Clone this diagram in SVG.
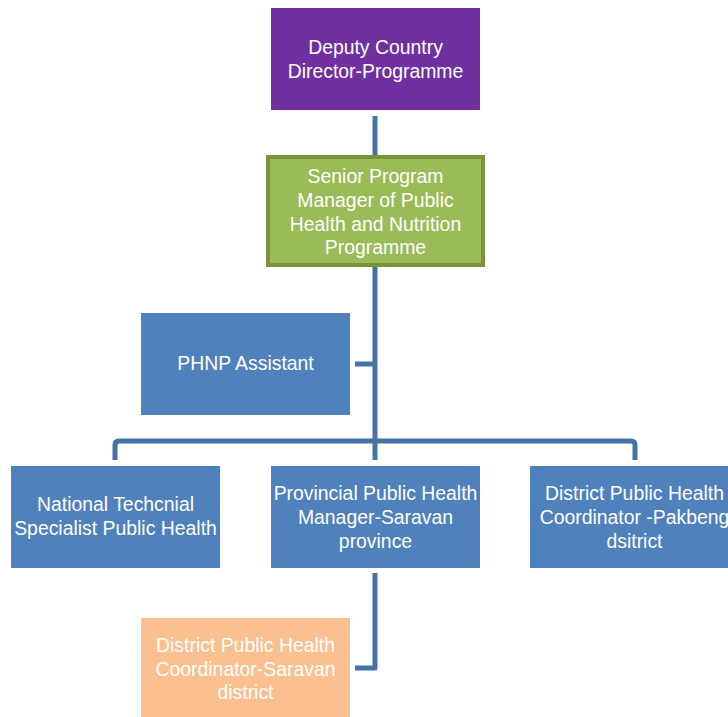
<svg xmlns="http://www.w3.org/2000/svg" width="728" height="717" viewBox="0 0 728 717">
<style>
.t{font-family:"Liberation Sans",Arial,sans-serif;font-size:19.4px;fill:#fff;text-anchor:middle}
.blue{fill:#4F81BD}
.c{fill:none;stroke:#4572A7;stroke-width:5;stroke-linejoin:round}
</style>
<rect width="728" height="717" fill="#fff"/>
<g id="connectors">
<path class="c" d="M375 116 V460"/>
<path class="c" d="M355 364 H375"/>
<path class="c" d="M115 460 V445 Q115 441 119 441 H631 Q635 441 635 445 V460"/>
<path class="c" d="M375 573 V668 H355"/>
</g>
<g id="deputy">
<rect x="271" y="8" width="209" height="102" fill="#7030A0"/>
<text class="t" x="375.5" y="54">Deputy Country</text>
<text class="t" x="375.5" y="78">Director-Programme</text>
</g>
<g id="senior">
<rect x="268" y="157" width="215" height="108" fill="#9BBB59" stroke="#77933C" stroke-width="4"/>
<text class="t" x="375.5" y="183">Senior Program</text>
<text class="t" x="375.5" y="207">Manager of Public</text>
<text class="t" x="375.5" y="231">Health and Nutrition</text>
<text class="t" x="375.5" y="254">Programme</text>
</g>
<g id="phnp">
<rect class="blue" x="141" y="313" width="209" height="102"/>
<text class="t" x="245.5" y="370">PHNP Assistant</text>
</g>
<g id="national">
<rect class="blue" x="11" y="466" width="209" height="102"/>
<text class="t" x="115.5" y="511">National Techcnial</text>
<text class="t" x="115.5" y="535">Specialist Public Health</text>
</g>
<g id="provincial">
<rect class="blue" x="271" y="466" width="209" height="102"/>
<text class="t" x="375.5" y="500">Provincial Public Health</text>
<text class="t" x="375.5" y="524">Manager-Saravan</text>
<text class="t" x="375.5" y="548">province</text>
</g>
<g id="pakbeng">
<rect class="blue" x="530" y="466" width="209" height="102"/>
<text class="t" x="634.5" y="500">District Public Health</text>
<text class="t" x="634.5" y="524">Coordinator -Pakbeng</text>
<text class="t" x="634.5" y="548">dsitrict</text>
</g>
<g id="saravan">
<rect x="141" y="618" width="209" height="102" fill="#FAC090"/>
<text class="t" x="245.5" y="652">District Public Health</text>
<text class="t" x="245.5" y="676">Coordinator-Saravan</text>
<text class="t" x="245.5" y="699">district</text>
</g>
</svg>
